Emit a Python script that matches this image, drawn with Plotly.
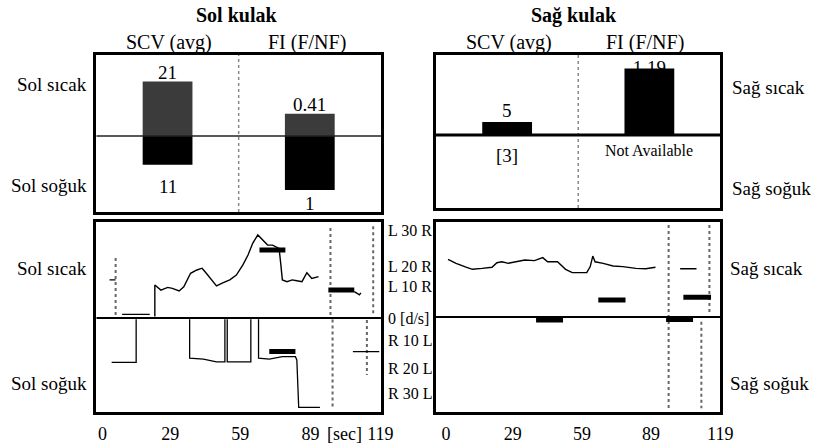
import plotly.graph_objects as go

W, H = 826, 448
FONT = "Liberation Serif"

# ---------------- data ----------------
# top panels: SCV (avg) and FI (F/NF)
scv_left = {"sicak": 21, "soguk": 11}
fi_left = {"sicak": 0.41, "soguk": 1}
scv_right = {"sicak": 5, "soguk": 3}          # 3 shown only as "[3]"
fi_right = {"sicak": 1.19}                     # soguk: Not Available
bar_cats = [0, 1]                              # 0 = SCV, 1 = FI

# bottom-left (Sol) traces, time [s], velocity [d/s] (+ = upper half)
sol_sicak_t = [3.0, 5.6, None, 8.4, 20.2, None,
               22.4, 22.4, 25.0, 27.9, 29.9, 32.8, 34.8, 37.7, 40.4, 42.6, 43.9, 46.1, 48.8,
               51.7, 54.5, 57.3, 60.1, 62.3, 64.3, 66.5, 68.5, 70.7, 72.8, 75.6, 76.3, 77.0,
               79.0, 81.2, 83.2, 85.4, 87.5, 89.6, 92.5, None, 107.8, 110.0, 110.6]
sol_sicak_v = [12.7, 12.7, None, 1.2, 1.2, None,
               0.5, 11.0, 9.3, 10.2, 9.9, 9.0, 10.4, 14.9, 16.0, 16.6, 15.4, 13.2, 10.7,
               11.8, 12.7, 14.3, 17.7, 21.0, 24.9, 27.7, 26.0, 24.3, 24.3, 23.2, 18.2, 12.7,
               12.1, 12.7, 12.4, 12.1, 15.1, 13.2, 13.8, None, 8.8, 7.7, 8.4]
sol_soguk_t = [3.9, 14.4, 14.4, None,
               37.3, 37.3, 43.2, 48.8, 52.4, 52.4, None,
               53.4, 53.4, 63.5, 63.5, None,
               66.8, 66.8, 71.4, 77.0, 82.6, 83.2, 84.0, 93.1, None,
               107.2, 118.5]
sol_soguk_v = [-14.8, -14.8, -0.4, None,
               -0.4, -13.4, -13.7, -14.6, -14.6, -0.4, None,
               -0.4, -14.6, -14.6, -0.4, None,
               -0.4, -13.4, -13.7, -12.9, -12.9, -14.0, -29.8, -29.8, None,
               -11.2, -11.2]
sol_avg_t = [67.2, 78.3, None, 96.7, 107.8, None, 71.4, 82.6]
sol_avg_v = [22.7, 22.7, None, 9.3, 9.3, None, -11.2, -11.2]
sol_mark_t = [5.6, 5.6, None, 97.6, 97.6, None, 115.9, 115.9, None,
              98.5, 98.5, None, 113.2, 113.2]
sol_mark_v = [1.0, 21.0, None, 1.0, 31.0, None, 1.6, 31.0, None,
              -0.5, -30.5, None, -0.7, -19.0]

# bottom-right (Sag) traces
sag_sicak_t = [0.9, 4.4, 8.7, 11.5, 15.7, 20.0, 22.1, 24.3, 27.1, 29.9, 34.2, 38.4, 42.0,
               44.1, 48.4, 51.9, 54.8, 61.1, 62.6, 63.7, 64.7, 68.2, 72.5, 76.7, 82.4,
               86.7, 90.9, None, 101.6, 108.7]
sag_sicak_v = [19.2, 17.9, 16.6, 15.9, 16.2, 16.6, 18.1, 18.4, 17.9, 18.4, 19.0, 18.8, 19.8,
               18.4, 18.4, 15.9, 14.8, 14.8, 16.8, 20.3, 18.4, 17.9, 17.0, 16.8, 16.2,
               16.1, 16.6, None, 16.1, 16.1]
sag_avg_t = [66.1, 77.9, None, 103.0, 115.0, None, 39.1, 50.8, None, 95.5, 107.2]
sag_avg_v = [5.7, 5.7, None, 6.6, 6.6, None, -1.0, -1.0, None, -0.8, -0.8]
sag_mark_t = [96.6, 96.6, None, 114.3, 114.3, None, 110.8, 110.8]
sag_mark_v = [30.7, -30.4, None, 30.7, 1.2, None, -1.6, -30.4]

x_ticks_left = [0, 29, 59, 89, 103.6, 119]
x_text_left = ["0", "29", "59", "89", "[sec]", "119"]
x_ticks_right = [0, 29, 59, 89, 119]
y_ticks = [29.3, 17.3, 10.7, 0, -7.3, -16.7, -25]
y_text = ["L 30 R", "L 20 R", "L 10 R", "0 [d/s]", "R 10 L", "R 20 L", "R 30 L"]

# ---------------- figure ----------------
def px_x(p):
    return p / W

def px_y(p):
    return 1 - p / H

fig = go.Figure()
BW = 0.35
GRAY = "#3b3b3b"
LBL = 19

# top-left bars
fig.add_trace(go.Bar(x=[bar_cats[0]], y=[scv_left["sicak"]], width=BW, marker_color=GRAY,
                     marker_line_width=0, xaxis="x", yaxis="y"))
fig.add_trace(go.Bar(x=[bar_cats[0]], y=[-scv_left["soguk"]], width=BW, marker_color="black",
                     marker_line_width=0, xaxis="x", yaxis="y"))
fig.add_trace(go.Bar(x=[bar_cats[1]], y=[fi_left["sicak"]], width=BW, marker_color=GRAY,
                     marker_line_width=0, xaxis="x", yaxis="y2"))
fig.add_trace(go.Bar(x=[bar_cats[1]], y=[-fi_left["soguk"]], width=BW, marker_color="black",
                     marker_line_width=0, xaxis="x", yaxis="y2"))

# top-right
y3r = [-28.1, 30.8]
y4r = [-1.30, 1.43]
fac = (y3r[1] - y3r[0]) / (y4r[1] - y4r[0])
fig.add_trace(go.Scatter(x=[bar_cats[1]], y=[fi_right["sicak"] * fac - 0.4], mode="text",
                         text=["1.19"], textfont=dict(family=FONT, size=LBL, color="black"),
                         xaxis="x3", yaxis="y3"))
fig.add_trace(go.Bar(x=[bar_cats[0]], y=[scv_right["sicak"]], width=BW, marker_color="black",
                     marker_line_width=0, xaxis="x3", yaxis="y3"))
fig.add_trace(go.Bar(x=[bar_cats[1]], y=[fi_right["sicak"]], width=BW, marker_color="black",
                     marker_line_width=0, xaxis="x3", yaxis="y4"))

# bottom-left
fig.add_trace(go.Scatter(x=sol_mark_t, y=sol_mark_v, mode="lines",
                         line=dict(color="#666", width=2, dash="dot"), xaxis="x5", yaxis="y5"))
fig.add_trace(go.Scatter(x=sol_sicak_t, y=sol_sicak_v, mode="lines",
                         line=dict(color="black", width=1.4), xaxis="x5", yaxis="y5"))
fig.add_trace(go.Scatter(x=sol_soguk_t, y=sol_soguk_v, mode="lines",
                         line=dict(color="black", width=1.3), xaxis="x5", yaxis="y5"))
fig.add_trace(go.Scatter(x=sol_avg_t, y=sol_avg_v, mode="lines",
                         line=dict(color="black", width=5), xaxis="x5", yaxis="y5"))

# bottom-right
fig.add_trace(go.Scatter(x=sag_mark_t, y=sag_mark_v, mode="lines",
                         line=dict(color="#666", width=2, dash="dot"), xaxis="x6", yaxis="y6"))
fig.add_trace(go.Scatter(x=sag_sicak_t, y=sag_sicak_v, mode="lines",
                         line=dict(color="black", width=1.4), xaxis="x6", yaxis="y6"))
fig.add_trace(go.Scatter(x=sag_avg_t, y=sag_avg_v, mode="lines",
                         line=dict(color="black", width=5), xaxis="x6", yaxis="y6"))

box = dict(showline=True, mirror=True, linecolor="black", linewidth=3, showgrid=False,
           zeroline=False, ticks="", fixedrange=True)
nolab = dict(showticklabels=False)
top_dom = [px_y(212), px_y(55)]
topr_dom = [px_y(208), px_y(55)]
bot_dom = [px_y(412), px_y(222)]
left_dom = [px_x(98), px_x(387)]
right_dom = [px_x(443), px_x(732)]
tickf = dict(family=FONT, size=18, color="black")

fig.update_layout(
    width=W, height=H, margin=dict(l=0, r=0, t=0, b=0),
    paper_bgcolor="white", plot_bgcolor="rgba(0,0,0,0)", showlegend=False, barmode="overlay",
    font=dict(family=FONT, color="black"),
    xaxis=dict(domain=left_dom, range=[-0.5, 1.5], anchor="y", **box, **nolab),
    yaxis=dict(domain=top_dom, range=[-29.2, 31.2], anchor="x", **box, **nolab),
    yaxis2=dict(overlaying="y", range=[-1.407, 1.5], anchor="x", visible=False, fixedrange=True),
    xaxis3=dict(domain=right_dom, range=[-0.5, 1.5], anchor="y3", **box, **nolab),
    yaxis3=dict(domain=topr_dom, range=y3r, anchor="x3", **box, **nolab),
    yaxis4=dict(overlaying="y3", range=y4r, anchor="x3", visible=False, fixedrange=True),
    xaxis5=dict(domain=left_dom, range=[-2.6, 119.2], anchor="y5", tickvals=x_ticks_left,
                ticktext=x_text_left, tickfont=tickf, ticklabelstandoff=3, **box),
    yaxis5=dict(domain=bot_dom, range=[-31.33, 32], anchor="x5", side="right",
                tickvals=y_ticks, ticktext=y_text, tickfont=dict(family=FONT, size=16, color="black"),
                ticklabelstandoff=1, **box),
    xaxis6=dict(domain=right_dom, range=[-4.3, 119.1], anchor="y6", tickvals=x_ticks_right,
                tickfont=tickf, ticklabelstandoff=3, **box),
    yaxis6=dict(domain=bot_dom, range=[-31.67, 31.67], anchor="x6", **box, **nolab),
)

shapes = [
    dict(type="line", xref="x domain", yref="y", x0=0, x1=1, y0=0, y1=0,
         line=dict(color="#222", width=1.5), layer="above"),
    dict(type="line", xref="x3 domain", yref="y3", x0=0, x1=1, y0=0, y1=0,
         line=dict(color="black", width=3), layer="above"),
    dict(type="line", xref="x5 domain", yref="y5", x0=0, x1=1, y0=0, y1=0,
         line=dict(color="black", width=2), layer="above"),
    dict(type="line", xref="x6 domain", yref="y6", x0=0, x1=1, y0=0, y1=0,
         line=dict(color="black", width=2), layer="above"),
    dict(type="line", xref="x", yref="y domain", x0=0.5, x1=0.5, y0=0, y1=1,
         line=dict(color="#888", width=1.5, dash="dot"), layer="below"),
    dict(type="line", xref="x3", yref="y3 domain", x0=0.5, x1=0.5, y0=0, y1=1,
         line=dict(color="#888", width=1.5, dash="dot"), layer="below"),
]
fig.update_layout(shapes=shapes)

ann = []
def txt(text, x, y, size=LBL, xanchor="center", bold=False):
    ann.append(dict(text=f"<b>{text}</b>" if bold else text, x=px_x(x), y=px_y(y),
                    xref="paper", yref="paper", xanchor=xanchor, yanchor="middle",
                    showarrow=False, font=dict(family=FONT, size=size, color="black")))

txt("Sol kulak", 240, 15, size=20, bold=True)
txt("Sağ kulak", 583, 15, size=20, bold=True)
txt("SCV (avg)", 172, 42, size=20)
txt("FI (F/NF)", 312, 42, size=20)
txt("SCV (avg)", 517, 42, size=20)
txt("FI (F/NF)", 655, 42, size=20)
txt("Sol sıcak", 90, 85, xanchor="right")
txt("Sol soğuk", 90, 185, xanchor="right")
txt("Sağ sıcak", 742, 88, xanchor="left")
txt("Sağ soğuk", 742, 188, xanchor="left")
txt("Sol sıcak", 90, 268, xanchor="right")
txt("Sol soğuk", 90, 383, xanchor="right")
txt("Sağ sıcak", 740, 268, xanchor="left")
txt("Sağ soğuk", 740, 383, xanchor="left")

def vlab(text, x, y, xr, yr, shift, size=LBL):
    ann.append(dict(text=text, x=x, y=y, xref=xr, yref=yr, yshift=shift, showarrow=False,
                    xanchor="center", yanchor="middle",
                    font=dict(family=FONT, size=size, color="black")))

vlab(str(scv_left["sicak"]), bar_cats[0], scv_left["sicak"], "x", "y", 9)
vlab(str(scv_left["soguk"]), bar_cats[0], -scv_left["soguk"], "x", "y", -22)
vlab(str(fi_left["sicak"]), bar_cats[1], fi_left["sicak"], "x", "y2", 9)
vlab(str(fi_left["soguk"]), bar_cats[1], -fi_left["soguk"], "x", "y2", -13)
vlab(str(scv_right["sicak"]), bar_cats[0], scv_right["sicak"], "x3", "y3", 12)
vlab(f"[{scv_right['soguk']}]", bar_cats[0], 0, "x3", "y3", -20)
vlab("Not Available", bar_cats[1], 0, "x3", "y3", -15, size=16)

fig.update_layout(annotations=ann)
fig.write_html("out.html")
